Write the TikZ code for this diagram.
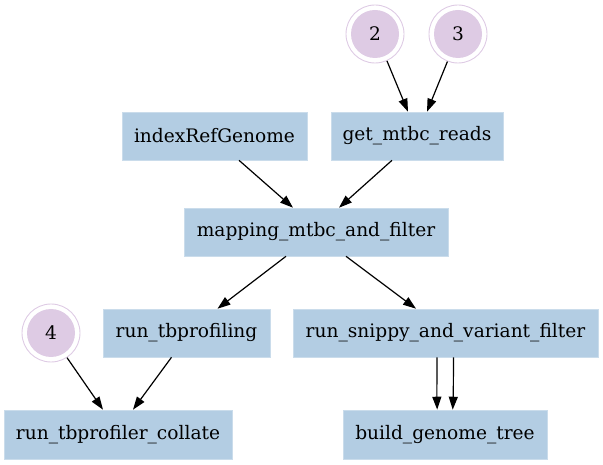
\documentclass[tikz,border=0pt]{standalone}
\usepackage{fontspec}
\setmainfont{DejaVu Serif}
\usetikzlibrary{arrows.meta,calc}
\definecolor{boxblue}{RGB}{179,205,227}
\definecolor{circpurple}{RGB}{222,203,228}
\tikzset{
  rulebox/.style={rectangle, fill=boxblue, draw=boxblue!70!white, line width=0.6pt, inner sep=0pt, minimum height=48pt, font=\fontsize{18.6}{22}\selectfont},
  inputcirc/.style={circle, draw=circpurple, line width=0.9pt, minimum size=58pt, inner sep=0pt, font=\fontsize{18.6}{22}\selectfont,
    path picture={\fill[circpurple] (path picture bounding box.center) circle (24pt);}},
  edge/.style={-{Triangle[length=13pt,width=9pt]}, line width=1.2pt, black}
}
\begin{document}
\begin{tikzpicture}[x=1pt,y=1pt]
\useasboundingbox (0,0) rectangle (603,464);
\node[inputcirc] (c2) at (375,430) {2};
\node[inputcirc] (c3) at (458,430) {3};
\node[inputcirc] (c4) at (51,131) {4};
\node[rulebox, minimum width=185pt] (index) at (214.5,328) {indexRefGenome};
\node[rulebox, minimum width=172pt] (get) at (417,328) {get\_mtbc\_reads};
\node[rulebox, minimum width=264pt] (mapping) at (316,232) {mapping\_mtbc\_and\_filter};
\node[rulebox, minimum width=167pt] (tbprof) at (186.5,131) {run\_tbprofiling};
\node[rulebox, minimum width=305pt] (snippy) at (445.5,131) {run\_snippy\_and\_variant\_filter};
\node[rulebox, minimum width=228pt, minimum height=49pt] (collate) at (118,29.5) {run\_tbprofiler\_collate};
\node[rulebox, minimum width=204pt, minimum height=49pt] (build) at (445,29.5) {build\_genome\_tree};

\draw[edge] (c2.-66) -- ($(get.north)+(-9,0)$);
\draw[edge] (c3.-111) -- ($(get.north)+(10,0)$);
\draw[edge] ($(index.south)+(24.5,0)$) -- ($(mapping.north)+(-23,0)$);
\draw[edge] ($(get.south)+(-25,0)$) -- ($(mapping.north)+(23,0)$);
\draw[edge] ($(mapping.south)+(-30,0)$) -- ($(tbprof.north)+(31,0)$);
\draw[edge] ($(mapping.south)+(30,0)$) -- ($(snippy.north)+(-29.5,0)$);
\draw[edge] (c4.-57) -- ($(collate.north)+(-15,0)$);
\draw[edge] ($(tbprof.south)+(-15,0)$) -- ($(collate.north)+(15,0)$);
\draw[edge] ($(snippy.south)+(-8.5,0)$) .. controls ($(snippy.south)+(-9.2,-20)$) .. ($(build.north)+(-7.8,0)$);
\draw[edge] ($(snippy.south)+(8,0)$) .. controls ($(snippy.south)+(8.7,-20)$) .. ($(build.north)+(7.7,0)$);
\end{tikzpicture}
\end{document}
